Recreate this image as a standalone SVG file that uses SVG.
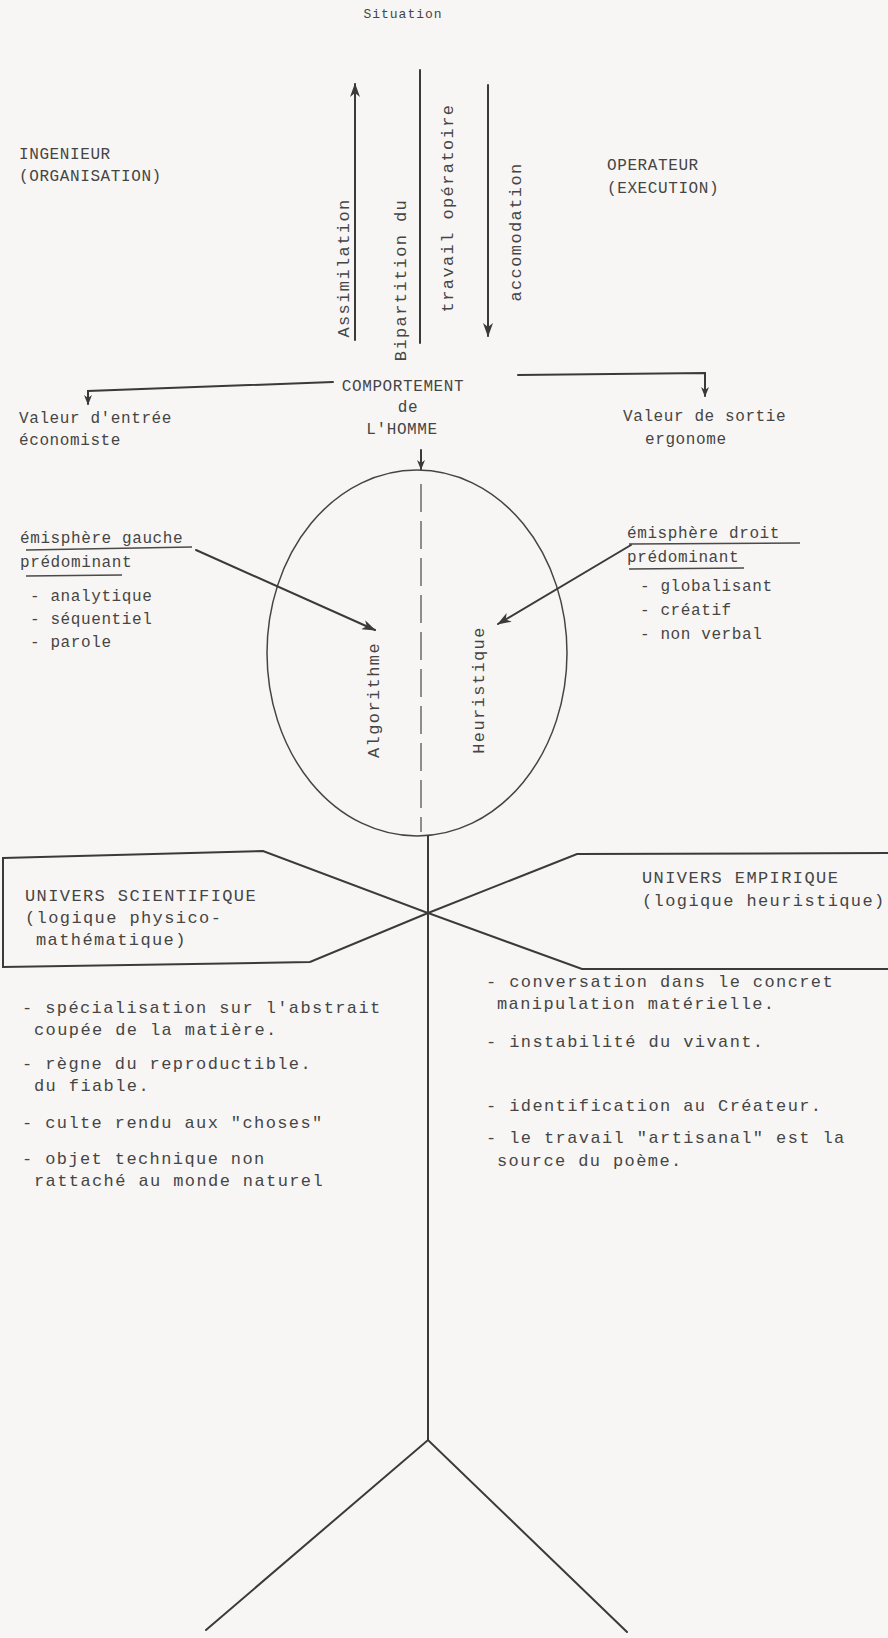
<svg xmlns="http://www.w3.org/2000/svg" width="888" height="1638" viewBox="0 0 888 1638">
<style>
.t{font-family:"Liberation Mono","DejaVu Sans Mono",monospace;font-size:17px;letter-spacing:1.4px;fill:#454545}
.n{font-size:16px;letter-spacing:0.6px}
.s{font-size:13px;letter-spacing:1px}
.m{text-anchor:middle}
.ln{fill:none;stroke:#3a3a3a;stroke-width:2;stroke-linecap:round}
.thin{fill:none;stroke:#444;stroke-width:1.5}
.ul{fill:none;stroke:#4a4a4a;stroke-width:1.6}
</style>
<defs>
<marker id="ah" viewBox="0 0 14 10" refX="13" refY="5" markerWidth="14" markerHeight="10" markerUnits="userSpaceOnUse" orient="auto">
<path d="M0,0 L14,5 L0,10 L4,5 z" fill="#3a3a3a"/>
</marker>
<marker id="ahs" viewBox="0 0 10 8" refX="9" refY="4" markerWidth="10" markerHeight="8" markerUnits="userSpaceOnUse" orient="auto">
<path d="M0,0 L10,4 L0,8 L3,4 z" fill="#3a3a3a"/>
</marker>
</defs>
<rect width="888" height="1638" fill="#f8f6f4"/>

<g id="situation"><text class="t s m" x="403" y="18">Situation</text></g>

<g id="bipartition">
<text class="t m" transform="translate(349,268) rotate(-90)">Assimilation</text>
<text class="t m" transform="translate(406,280) rotate(-90)">Bipartition du</text>
<text class="t m" transform="translate(453,208) rotate(-90)">travail opératoire</text>
<text class="t m" transform="translate(521,232) rotate(-90)">accomodation</text>
</g>

<g id="ingenieur">
<text class="t n" x="19" y="159">INGENIEUR</text>
<text class="t n" x="19" y="181">(ORGANISATION)</text>
</g>
<g id="operateur">
<text class="t n" x="607" y="170">OPERATEUR</text>
<text class="t n" x="607" y="193">(EXECUTION)</text>
</g>

<g id="comportement">
<text class="t n m" x="403" y="391">COMPORTEMENT</text>
<text class="t n m" x="408" y="412">de</text>
<text class="t n m" x="402" y="434">L'HOMME</text>
</g>

<g id="valeur-entree">
<text class="t n" x="19" y="423">Valeur d'entrée</text>
<text class="t n" x="19" y="445">économiste</text>
</g>
<g id="valeur-sortie">
<text class="t n" x="623" y="421">Valeur de sortie</text>
<text class="t n" x="645" y="444">ergonome</text>
</g>

<g id="hemisphere-gauche">
<text class="t n" x="20" y="543">émisphère gauche</text>
<path class="ul" d="M26,550 L192,547"/>
<text class="t n" x="20" y="567">prédominant</text>
<path class="ul" d="M26,576 L122,575"/>
<text class="t n" x="30" y="601">- analytique</text>
<text class="t n" x="30" y="624">- séquentiel</text>
<text class="t n" x="30" y="647">- parole</text>
</g>

<g id="hemisphere-droit">
<text class="t n" x="627" y="538">émisphère  droit</text>
<path class="ul" d="M629,544 L800,543"/>
<text class="t n" x="627" y="562">prédominant</text>
<path class="ul" d="M629,569 L744,568"/>
<text class="t n" x="640" y="591">- globalisant</text>
<text class="t n" x="640" y="615">- créatif</text>
<text class="t n" x="640" y="639">- non verbal</text>
</g>

<g id="tete">
<ellipse class="thin" cx="417" cy="653" rx="150" ry="183"/>
<path d="M421,484 L421,832" stroke="#555" stroke-width="1.3" stroke-dasharray="28 9" fill="none"/>
<text class="t m" transform="translate(379,700) rotate(-90)">Algorithme</text>
<text class="t m" transform="translate(484,690) rotate(-90)">Heuristique</text>
</g>

<g id="univers-scientifique">
<path class="ln" d="M3,858 L263,851 L428,913 L310,962 L3,967 Z" stroke-linejoin="miter"/>
<text class="t" x="25" y="901">UNIVERS SCIENTIFIQUE</text>
<text class="t" x="25" y="923">(logique physico-</text>
<text class="t" x="36" y="945">mathématique)</text>
</g>
<g id="univers-empirique">
<path class="ln" d="M890,853 L577,854 L428,913 L582,969 L890,969"/>
<text class="t" x="642" y="883">UNIVERS EMPIRIQUE</text>
<text class="t" x="642" y="906">(logique heuristique)</text>
</g>

<g id="liste-scientifique">
<text class="t" x="22" y="1013">- spécialisation sur l'abstrait</text>
<text class="t" x="34" y="1035">coupée de la matière.</text>
<text class="t" x="22" y="1069">- règne du reproductible.</text>
<text class="t" x="34" y="1091">du fiable.</text>
<text class="t" x="22" y="1128">- culte rendu aux "choses"</text>
<text class="t" x="22" y="1164">- objet technique non</text>
<text class="t" x="34" y="1186">rattaché au monde naturel</text>
</g>
<g id="liste-empirique">
<text class="t" x="486" y="987">- conversation dans le concret</text>
<text class="t" x="497" y="1009">manipulation matérielle.</text>
<text class="t" x="486" y="1047">- instabilité du vivant.</text>
<text class="t" x="486" y="1111">- identification au Créateur.</text>
<text class="t" x="486" y="1143">- le travail "artisanal" est la</text>
<text class="t" x="497" y="1166">source du poème.</text>
</g>

<g id="corps">
<path class="ln" d="M428,836 L428,1440"/>
<path class="ln" d="M206,1630 L428,1440 L627,1632"/>
</g>

<g id="connecteurs">
<path class="ln" d="M355,340 L355,84" marker-end="url(#ah)"/>
<path class="ln" d="M420,70 L420,343"/>
<path class="ln" d="M488,85 L488,336" marker-end="url(#ah)"/>
<path class="ln" d="M333,382 L88,391 L88,404" marker-end="url(#ahs)"/>
<path class="ln" d="M518,375 L705,373 L705,396" marker-end="url(#ahs)"/>
<path class="ln" d="M421,450 L421,469" marker-end="url(#ahs)"/>
<path class="ln" d="M196,550 L375,630" marker-end="url(#ah)"/>
<path class="ln" d="M631,545 L498,624" marker-end="url(#ah)"/>
</g>
</svg>
